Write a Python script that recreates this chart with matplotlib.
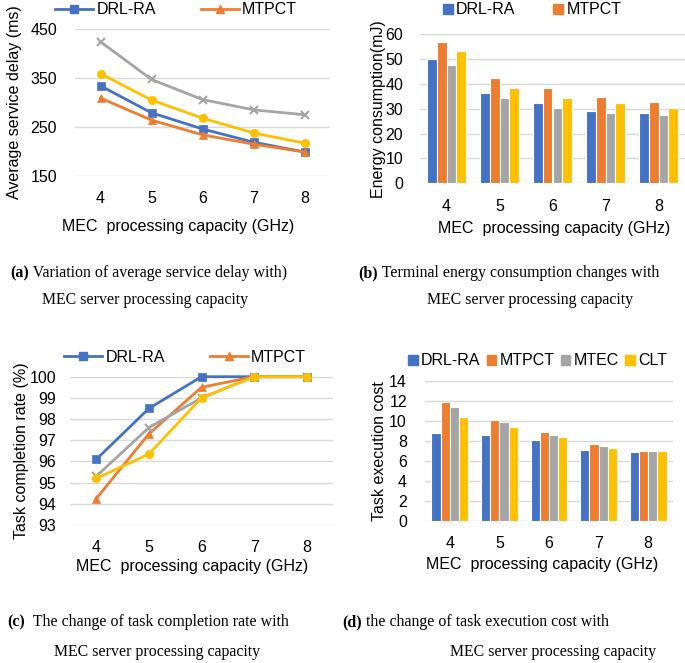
import numpy as np
import matplotlib
matplotlib.use('Agg')
from matplotlib import pyplot as plt
from matplotlib.lines import Line2D
from matplotlib.patches import Patch

plt.rcParams['font.family'] = ['Liberation Sans', 'DejaVu Sans']

capacity = ['4', '5', '6', '7', '8']
methods = ['DRL-RA', 'MTPCT', 'MTEC', 'CLT']
colors = ['#4472C4', '#ED7D31', '#A5A5A5', '#FFC000']
markers = ['s', '^', 'x', 'o']

# (a) average service delay (ms)
delay = {
    'DRL-RA': [334, 279, 246, 219, 199],
    'MTPCT': [309, 264, 234, 215, 199],
    'MTEC': [424, 347, 306, 285, 275],
    'CLT': [359, 305, 268, 238, 217],
}
# (b) energy consumption (mJ)
energy = {
    'DRL-RA': [50.0, 36.4, 32.1, 29.0, 28.1],
    'MTPCT': [56.7, 42.2, 38.2, 34.8, 32.6],
    'MTEC': [47.6, 34.1, 30.1, 28.2, 27.3],
    'CLT': [53.3, 38.2, 34.1, 32.1, 30.1],
}
# (c) task completion rate (%)
completion = {
    'DRL-RA': [96.1, 98.5, 100, 100, 100],
    'MTPCT': [94.25, 97.3, 99.5, 100, 100],
    'MTEC': [95.3, 97.6, 99.0, 100, 100],
    'CLT': [95.2, 96.35, 99.0, 100, 100],
}
# (d) task execution cost
cost = {
    'DRL-RA': [8.8, 8.55, 8.08, 7.08, 6.9],
    'MTPCT': [11.9, 10.08, 8.85, 7.68, 7.0],
    'MTEC': [11.35, 9.9, 8.58, 7.45, 7.0],
    'CLT': [10.35, 9.38, 8.35, 7.28, 6.95],
}

W, H = 685, 663
FS = 11.5
fig = plt.figure(figsize=(W / 100, H / 100), dpi=100)


def add_ax(l, t, r, b):
    return fig.add_axes([l / W, 1 - b / H, (r - l) / W, (b - t) / H])


def style(ax, ylim, yticks, ylabel, ylab_x, xlab_x, xlab_y, l, t, r, b, ypad=13):
    ax.set_xlim(-0.5, 4.5)
    ax.set_ylim(*ylim)
    ax.set_yticks(yticks)
    ax.set_xticks(range(5))
    ax.set_xticklabels(capacity)
    ax.grid(axis='y', color='#d9d9d9', linewidth=1)
    ax.set_axisbelow(True)
    for s in ax.spines.values():
        s.set_visible(False)
    ax.tick_params(length=0, labelsize=FS)
    ax.tick_params(axis='x', pad=11)
    ax.tick_params(axis='y', pad=ypad)
    ax.set_ylabel(ylabel, fontsize=FS)
    ax.set_xlabel('MEC  processing capacity (GHz)', fontsize=FS)
    ax.yaxis.set_label_coords((ylab_x - l) / (r - l), 0.5)
    ax.xaxis.set_label_coords((xlab_x - l) / (r - l), -(xlab_y - b) / (b - t))
    ax.xaxis.label.set_va('center')
    ax.yaxis.label.set_va('center')


x = np.arange(5)

# (a)
l, t, r, b = 75, 29, 330, 176
ax = add_ax(l, t, r, b)
for m, c, mk in zip(methods, colors, markers):
    ax.plot(x, delay[m], color=c, marker=mk, markersize=6, linewidth=2,
            markeredgewidth=1.5 if mk == 'x' else 0.5)
style(ax, (150, 450), [150, 250, 350, 450], 'Average service delay (ms)', 15, 178, 227, l, t, r, b)
handles = [Line2D([], [], color=colors[i], marker=markers[i], markersize=6, linewidth=2)
           for i in range(2)]
fig.legend(handles, methods[:2], loc='center left', bbox_to_anchor=(55 / W, 1 - 10 / H),
           ncol=2, frameon=False, fontsize=FS, handlelength=2.4, handletextpad=0.2,
           columnspacing=2.8, borderpad=0, borderaxespad=0)

# (b)
l, t, r, b = 420, 34, 685, 183.3
ax = add_ax(l, t, r, b)
w = 0.185
for i, (m, c) in enumerate(zip(methods, colors)):
    ax.bar(x + (i - 1.5) * w, energy[m], width=w, color=c, edgecolor='white', linewidth=0.8)
style(ax, (0, 60), range(0, 61, 10), 'Energy consumption(mJ)', 378, 554, 229, l, t, r, b, ypad=12)
handles = [Patch(color=colors[i]) for i in range(2)]
fig.legend(handles, methods[:2], loc='center left', bbox_to_anchor=(443 / W, 1 - 10 / H),
           ncol=2, frameon=False, fontsize=FS, handlelength=0.6, handleheight=0.6,
           handletextpad=0.2, columnspacing=2.4, borderpad=0, borderaxespad=0)

# (c)
l, t, r, b = 70, 376.7, 333, 525
ax = add_ax(l, t, r, b)
for m, c, mk in zip(methods, colors, markers):
    ax.plot(x, completion[m], color=c, marker=mk, markersize=6, linewidth=2,
            markeredgewidth=1.5 if mk == 'x' else 0.5, clip_on=False)
style(ax, (93, 100), range(93, 101), 'Task completion rate (%)', 22, 192, 567, l, t, r, b, ypad=10)
handles = [Line2D([], [], color=colors[i], marker=markers[i], markersize=6, linewidth=2)
           for i in range(2)]
fig.legend(handles, methods[:2], loc='center left', bbox_to_anchor=(64 / W, 1 - 357 / H),
           ncol=2, frameon=False, fontsize=FS, handlelength=2.4, handletextpad=0.2,
           columnspacing=2.8, borderpad=0, borderaxespad=0)

# (d)
l, t, r, b = 425, 380.7, 673, 521
ax = add_ax(l, t, r, b)
for i, (m, c) in enumerate(zip(methods, colors)):
    ax.bar(x + (i - 1.5) * w, cost[m], width=w, color=c, edgecolor='white', linewidth=0.8)
style(ax, (0, 14), range(0, 15, 2), 'Task execution cost', 380, 542, 564, l, t, r, b, ypad=13)
handles = [Patch(color=colors[i]) for i in range(4)]
fig.legend(handles, methods, loc='center left', bbox_to_anchor=(408 / W, 1 - 361 / H),
           ncol=4, frameon=False, fontsize=FS, handlelength=0.6, handleheight=0.6,
           handletextpad=0.2, columnspacing=0.4, borderpad=0, borderaxespad=0)

# captions
serif = ['Liberation Serif', 'DejaVu Serif']
CF = 11.4
captions = [
    (10, 273, '(a)', ' Variation of average service delay with)', 145, 300),
    (358, 273, '(b)', ' Terminal energy consumption changes with', 530, 300),
    (7, 622, '(c)', '  The change of task completion rate with', 157, 652),
    (342, 622, '(d)', ' the change of task execution cost with', 553, 652),
]
for cx, cy, tag, rest, mx, my in captions:
    tt = fig.text(cx / W, 1 - cy / H, tag, family=serif, fontsize=CF, weight='bold', va='center')
    fig.canvas.draw()
    bb = tt.get_window_extent()
    fig.text(bb.x1 / W, 1 - cy / H, rest, family=serif, fontsize=CF, va='center')
    fig.text(mx / W, 1 - my / H, 'MEC server processing capacity', family=serif, fontsize=CF,
             va='center', ha='center')

fig.savefig('out.png', dpi=100)
